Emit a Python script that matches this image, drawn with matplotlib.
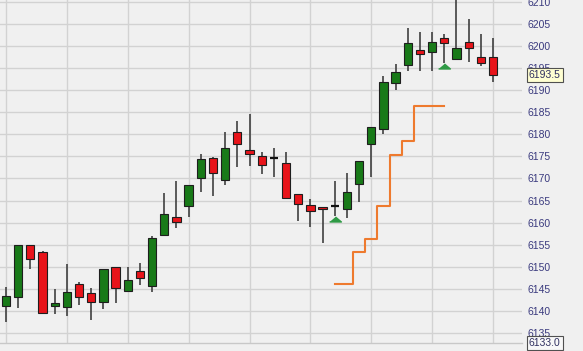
import matplotlib
matplotlib.use("Agg")
import matplotlib.pyplot as plt
import numpy as np

# ---- data ----
opens = [6141.1, 6143.2, 6155.0, 6153.3, 6141.1, 6140.9, 6146.1, 6144.1, 6142.0, 6149.9,
         6144.5, 6149.0, 6145.6, 6157.2, 6161.3, 6163.8, 6170.1, 6174.6, 6169.7, 6180.5,
         6176.5, 6175.1, 6174.6, 6173.5, 6166.5, 6164.0, 6163.5, 6163.8, 6163.1, 6168.8,
         6177.8, 6181.2, 6191.6, 6195.7, 6199.1, 6198.7, 6201.8, 6197.1, 6200.9, 6197.5,
         6197.5]
highs = [6145.4, 6155.0, 6155.0, 6153.5, 6145.0, 6150.6, 6146.5, 6145.2, 6149.5, 6150.0,
         6149.9, 6150.9, 6157.0, 6166.7, 6169.4, 6168.5, 6175.5, 6174.9, 6180.5, 6183.0,
         6184.6, 6176.0, 6176.9, 6176.0, 6166.5, 6165.4, 6163.5, 6169.4, 6171.2, 6174.0,
         6181.7, 6193.2, 6195.9, 6204.1, 6203.2, 6203.2, 6202.7, 6212.0, 6206.1, 6202.7,
         6201.8]
lows = [6137.5, 6140.7, 6149.5, 6139.3, 6139.3, 6138.8, 6141.3, 6137.9, 6140.4, 6141.8,
        6144.3, 6145.9, 6144.3, 6157.2, 6158.8, 6161.3, 6166.9, 6166.0, 6168.5, 6172.6,
        6172.8, 6171.0, 6170.3, 6165.4, 6160.4, 6159.0, 6155.4, 6161.5, 6161.0, 6164.7,
        6170.3, 6180.1, 6190.0, 6194.4, 6194.4, 6194.4, 6196.2, 6197.1, 6196.4, 6195.5,
        6191.9]
closes = [6143.4, 6154.9, 6151.8, 6139.5, 6141.8, 6144.3, 6143.2, 6142.0, 6149.5, 6145.2,
          6147.0, 6147.5, 6156.5, 6162.0, 6160.1, 6168.5, 6174.4, 6171.2, 6176.9, 6177.8,
          6175.5, 6173.1, 6174.6, 6165.6, 6164.2, 6162.6, 6163.1, 6163.8, 6166.9, 6174.0,
          6181.7, 6191.9, 6194.1, 6200.7, 6198.2, 6200.9, 6200.7, 6199.6, 6199.6, 6196.2,
          6193.5]

stop_idx = [27, 28, 29, 30, 31, 32, 33, 34, 35, 36]
stop_vals = [6146.0, 6146.0, 6153.3, 6156.3, 6163.8, 6175.3, 6178.5, 6186.4, 6186.4, 6186.4]

signal_idx = [27, 36]
signal_vals = [6160.8, 6195.6]

y_ticks = list(range(6135, 6215, 5))
x_grid = list(range(0, 45, 5))
last_price = 6193.5
low_bound = 6133.0

# ---- style ----
BG = "#f0f0f0"
GRID = "#d2d2d2"
GREEN = "#187a18"
RED = "#e8141a"
EDGE = "#1e1e1e"
WICK = "#404040"
LABEL = "#3a3a7e"

fig = plt.figure(figsize=(5.83, 3.51), dpi=100, facecolor=BG)
ax = fig.add_axes([0.0, 8 / 351, 522 / 583, 343 / 351], facecolor=BG)

n = len(opens)
idx = np.arange(n)
o = np.array(opens); c = np.array(closes); h = np.array(highs); l = np.array(lows)

# wicks
ax.vlines(idx, l, h, color=WICK, lw=1.2, zorder=3)

width = 0.68
up = c > o
down = c < o
doji = c == o
ax.bar(idx[up], (c - o)[up], bottom=o[up], width=width, color=GREEN,
       edgecolor=EDGE, linewidth=0.8, zorder=4)
ax.bar(idx[down], (o - c)[down], bottom=c[down], width=width, color=RED,
       edgecolor=EDGE, linewidth=0.8, zorder=4)
ax.hlines(c[doji], idx[doji] - width / 2, idx[doji] + width / 2, color="#111111",
          lw=1.6, zorder=4)

# trailing stop line
ax.plot(stop_idx, stop_vals, drawstyle="steps-mid", color="#ee7a2e", lw=1.5, zorder=2)

# signal triangles
tri = [(-1, -0.42), (1, -0.42), (0, 0.42)]
ax.plot(signal_idx, signal_vals, linestyle="none", marker=tri, markersize=8.5,
        color="#2f9a45", zorder=5)

# axes
ax.set_xlim(-0.493, (522 - 6) / 12.175)
ax.set_ylim(6132.7, 6210.45)
ax.set_yticks(y_ticks)
ax.set_xticks(x_grid)
ax.set_xticklabels([])
ax.tick_params(axis="x", length=0)
ax.yaxis.tick_right()
ax.tick_params(axis="y", length=0, pad=4, labelsize=7.5, labelcolor=LABEL)
for lab in ax.get_yticklabels():
    lab.set_fontfamily("Liberation Sans")
ax.grid(True, color=GRID, lw=1.0, zorder=0)
ax.set_axisbelow(True)
for s in ["top", "right", "left"]:
    ax.spines[s].set_visible(False)
ax.spines["bottom"].set_color("#c8c8c8")
ax.spines["bottom"].set_linewidth(1.0)

# price boxes
ax.annotate(f"{last_price:.1f}", xy=(1.0, last_price), xycoords=("axes fraction", "data"),
            xytext=(5, 0), textcoords="offset points", ha="left", va="center",
            fontsize=7.5, family="Liberation Sans", color="#303060",
            bbox=dict(boxstyle="square,pad=0.2", fc="#ffffd2", ec="#505050", lw=0.8),
            annotation_clip=False, zorder=10)
ax.annotate(f"{low_bound:.1f}", xy=(1.0, low_bound), xycoords=("axes fraction", "data"),
            xytext=(5, -1), textcoords="offset points", ha="left", va="center",
            fontsize=7.5, family="Liberation Sans", color="#303060",
            bbox=dict(boxstyle="square,pad=0.2", fc="#f8f8f8", ec="#505050", lw=0.8),
            annotation_clip=False, zorder=10)

fig.savefig("out.png", dpi=100, facecolor=BG)
